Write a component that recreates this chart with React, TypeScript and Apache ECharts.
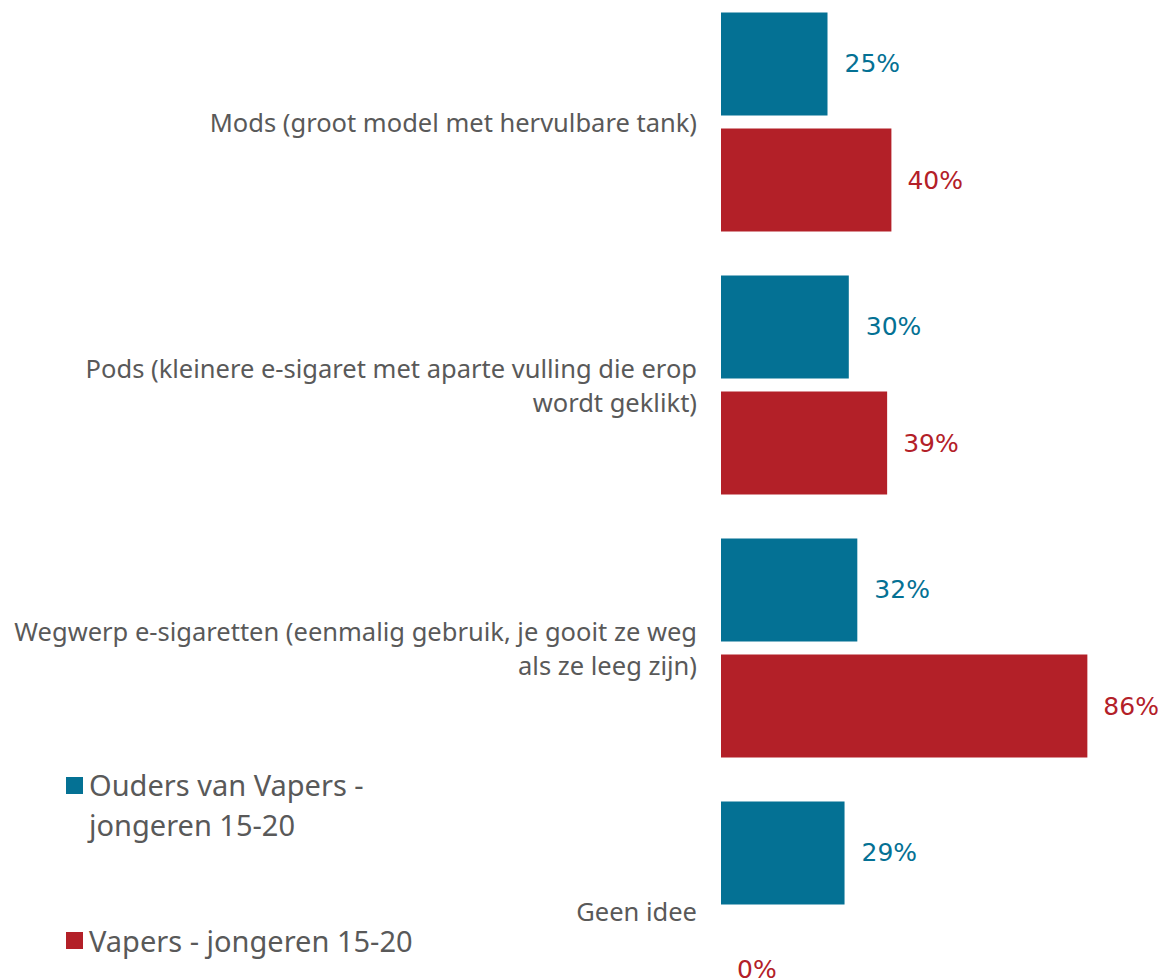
import React, { useEffect, useRef } from "react";
import * as echarts from "echarts";

const categories = [
  "Mods (groot model met hervulbare tank)",
  "Pods (kleinere e-sigaret met aparte vulling die erop\nwordt geklikt)",
  "Wegwerp e-sigaretten (eenmalig gebruik, je gooit ze weg\nals ze leeg zijn)",
  "Geen idee",
];
const seriesNames = ["Ouders van Vapers - jongeren 15-20", "Vapers - jongeren 15-20"];
const oudersValues = [25, 30, 32, 29];
const vapersValues = [40, 39, 86, 0];
const colors = ["#047194", "#B32028"];

const SHIFT = 10;

export default function App() {
  const ref = useRef<HTMLDivElement>(null);
  useEffect(() => {
    document.body.style.margin = "0";
    const chart = echarts.init(ref.current!, null, { renderer: "svg" });
    const valueFont = "'DejaVu Sans', sans-serif";
    const textFont = "'Noto Sans', sans-serif";
    chart.setOption({
      animation: false,
      grid: { left: 721, right: 13, top: 0.5, height: 1052, containLabel: false },
      xAxis: {
        type: "value",
        min: 0,
        max: 100,
        show: false,
      },
      yAxis: {
        type: "category",
        data: categories,
        inverse: true,
        axisLine: { show: false },
        axisTick: { show: false },
        axisLabel: {
          margin: 24,
          fontSize: 25.5,
          lineHeight: 34,
          color: "#595959",
          fontFamily: textFont,
          align: "right",
        },
      },
      series: [
        {
          name: seriesNames[0],
          type: "bar",
          data: oudersValues,
          itemStyle: { color: colors[0] },
          barGap: "12.6%",
          barCategoryGap: "16.7%",
          label: {
            show: true,
            position: "right",
            distance: 17,
            formatter: "{c}%",
            color: colors[0],
            fontSize: 25,
            fontFamily: valueFont,
          },
        },
        {
          name: seriesNames[1],
          type: "bar",
          data: vapersValues,
          itemStyle: { color: colors[1] },
          barGap: "12.6%",
          barCategoryGap: "16.7%",
          label: {
            show: true,
            position: "right",
            distance: 16,
            formatter: "{c}%",
            color: colors[1],
            fontSize: 25,
            fontFamily: valueFont,
          },
        },
      ],
      graphic: [
        { type: "rect", left: 66, top: 777 + SHIFT, shape: { width: 17, height: 17 }, style: { fill: colors[0] } },
        {
          type: "text",
          left: 89,
          top: 764 + SHIFT,
          style: {
            text: "Ouders van Vapers -\njongeren 15-20",
            fontSize: 29,
            lineHeight: 40,
            fill: "#595959",
            fontFamily: textFont,
          },
        },
        { type: "rect", left: 66, top: 932 + SHIFT, shape: { width: 17, height: 17 }, style: { fill: colors[1] } },
        {
          type: "text",
          left: 89,
          top: 920 + SHIFT,
          style: {
            text: "Vapers - jongeren 15-20",
            fontSize: 29,
            lineHeight: 40,
            fill: "#595959",
            fontFamily: textFont,
          },
        },
      ],
    });
    return () => chart.dispose();
  }, []);
  return (
    <div style={{ width: 1160, height: 979, overflow: "hidden", position: "relative" }}>
      <div ref={ref} style={{ width: 1160, height: 1070, position: "absolute", left: 0, top: -SHIFT }} />
    </div>
  );
}
